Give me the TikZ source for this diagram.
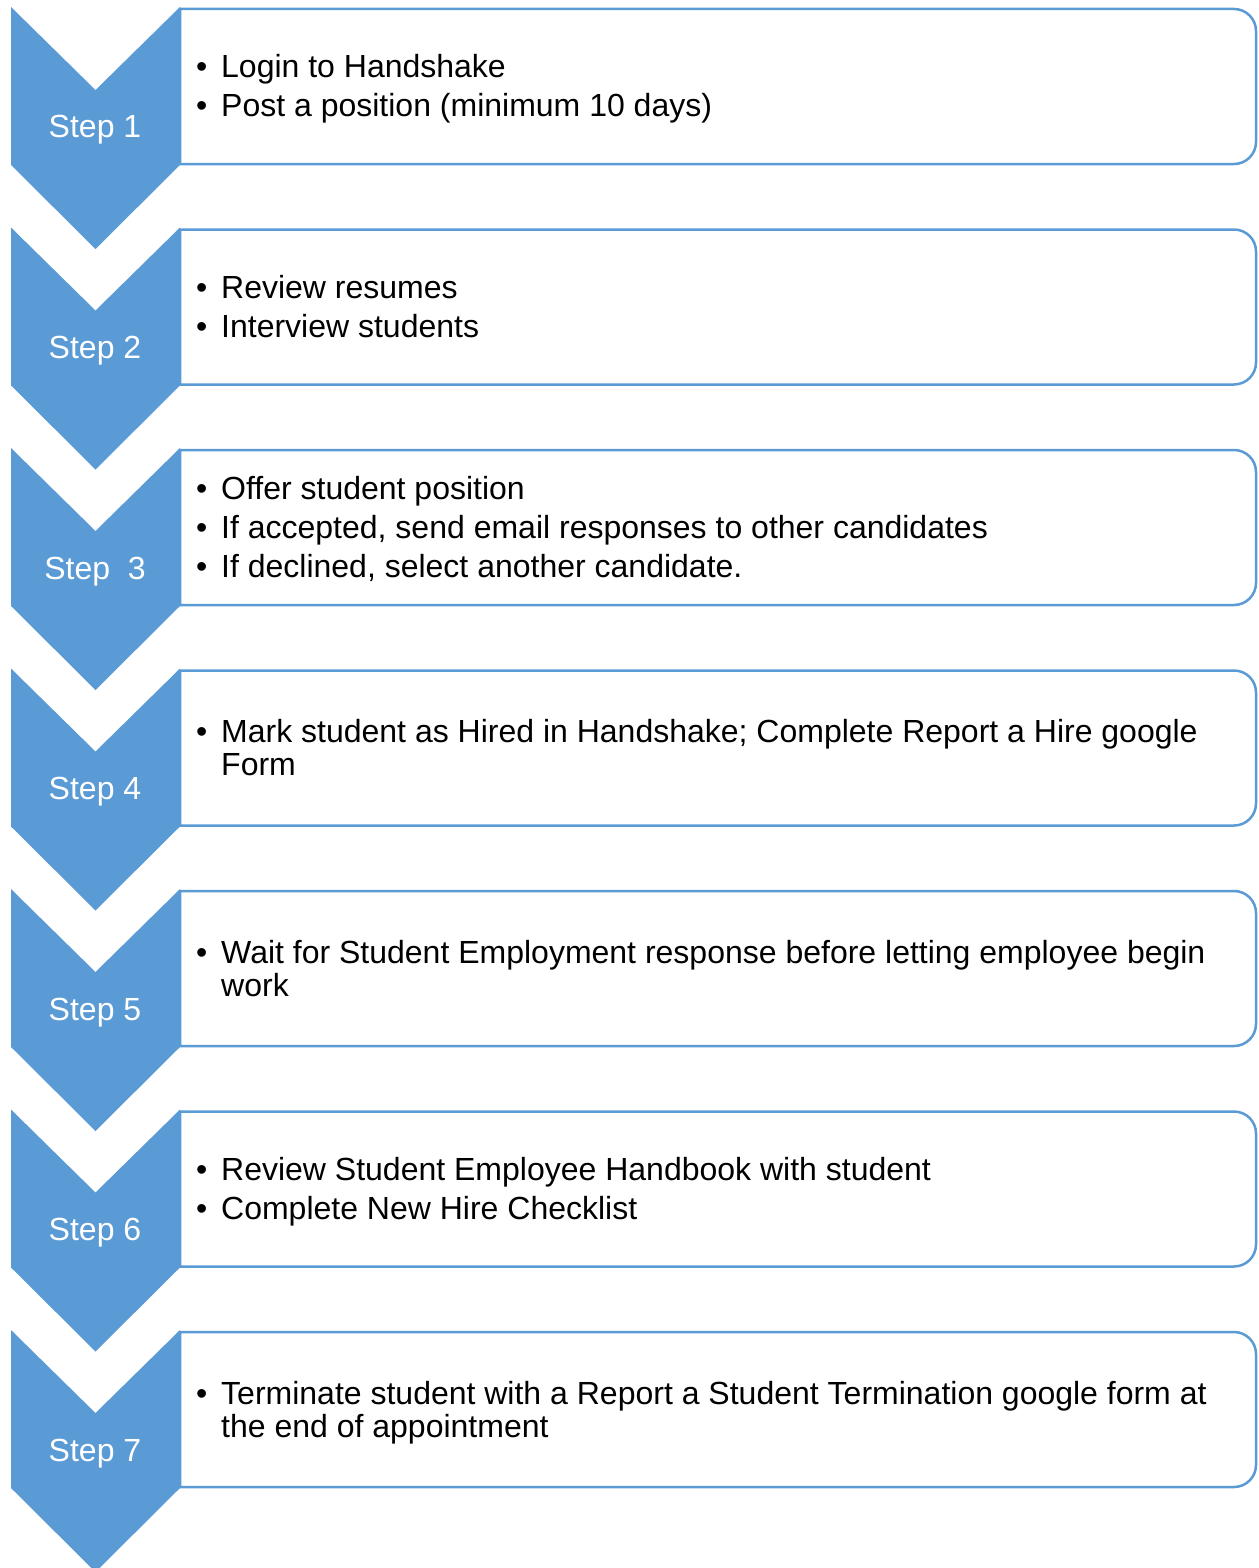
\documentclass[tikz,border=0pt]{standalone}
\usepackage{fontspec}
\setmainfont{Liberation Sans}
\definecolor{chevblue}{HTML}{5B9BD5}
\newcommand\bul[1]{\makebox[25pt][l]{•}#1}
\newcommand\cont[1]{\hspace*{25pt}#1}
\newcommand\topstrut{\rule{0pt}{25pt}}
\tikzset{
  chev/.style={fill=chevblue},
  boxline/.style={draw=chevblue, line width=2.5pt, fill=white},
  lab/.style={text=white, anchor=base, inner sep=0pt, font={\fontsize{32}{36}\selectfont}},
  body/.style={anchor=north west, align=left, inner sep=0pt, font={\fontsize{32}{33}\selectfont}}
}
% #1 index, #2 label, #3 first baseline offset, #4 body
\newcommand\stepblock[4]{%
  \pgfmathsetmacro\yo{7+(#1-1)*220.5}
  \draw[boxline] (180,\yo+2) -- (1234,\yo+2) arc[start angle=-90,end angle=0,radius=22]
     -- (1256,\yo+135) arc[start angle=0,end angle=90,radius=22] -- (180,\yo+157) -- cycle;
  \fill[chev] (11,\yo) -- (95.5,\yo+83) -- (180,\yo) -- (180,\yo+158) -- (95.5,\yo+242) -- (11,\yo+158) -- cycle;
  \node[lab] (s#1) at (95,\yo+131) {#2};
  \node[body] (t#1) at (196,\yo+#3-24) {\topstrut#4};
}
\begin{document}
\begin{tikzpicture}[x=1pt,y=-1pt]
\useasboundingbox (0,0) rectangle (1258,1568);
\stepblock{1}{Step 1}{69}{\bul{Login to Handshake}\\[6pt]\bul{Post a position (minimum 10 days)}}
\stepblock{2}{Step 2}{69.5}{\bul{Review resumes}\\[6pt]\bul{Interview students}}
\stepblock{3}{Step~~3}{50}{\bul{Offer student position}\\[6pt]\bul{If accepted, send email responses to other candidates}\\[6pt]\bul{If declined, select another candidate.}}
\stepblock{4}{Step 4}{73}{\bul{Mark student as Hired in Handshake; Complete Report a Hire google}\\\cont{Form}}
\stepblock{5}{Step 5}{73}{\bul{Wait for Student Employment response before letting employee begin}\\\cont{work}}
\stepblock{6}{Step 6}{69.5}{\bul{Review Student Employee Handbook with student}\\[6pt]\bul{Complete New Hire Checklist}}
\stepblock{7}{Step 7}{73}{\bul{Terminate student with a Report a Student Termination google form at}\\\cont{the end of appointment}}
\end{tikzpicture}
\end{document}
